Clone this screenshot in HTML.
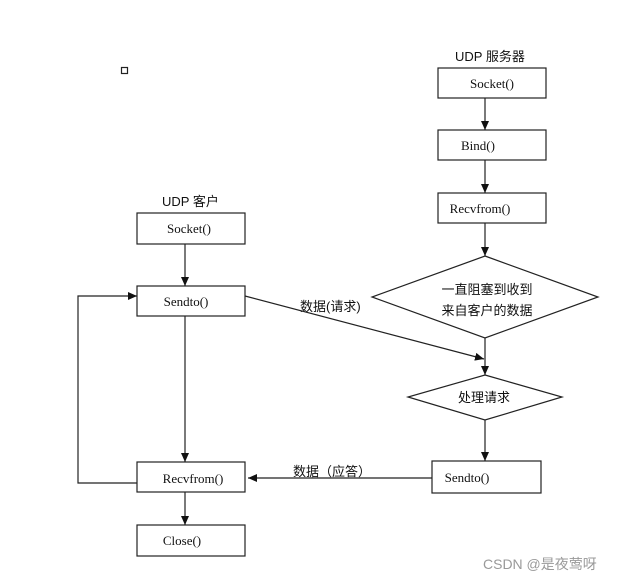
<!DOCTYPE html>
<html><head><meta charset="utf-8"><style>
body{margin:0;background:#fff;}
svg text{font-family:"Liberation Serif","Noto Serif CJK SC",serif;font-size:13px;fill:#111;}
.cjk{font-family:"Liberation Sans","Noto Sans CJK SC",sans-serif !important;}
</style></head><body>
<svg width="635" height="583" viewBox="0 0 635 583" xmlns="http://www.w3.org/2000/svg">
<defs><marker id="a" markerWidth="10" markerHeight="10" refX="9" refY="5" orient="auto" markerUnits="userSpaceOnUse"><path d="M0,1 L9,5 L0,9 Z" fill="#111"/></marker></defs>
<g stroke="#222" stroke-width="1.2" fill="none">
<rect x="121.5" y="67.5" width="6" height="6"/>
<rect x="438" y="68" width="108" height="30"/>
<rect x="438" y="130" width="108" height="30"/>
<rect x="438" y="193" width="108" height="30"/>
<polygon points="485,256 598,297 485,338 372,297"/>
<polygon points="485,375 562,397 485,420 408,397"/>
<rect x="432" y="461" width="109" height="32"/>
<rect x="137" y="213" width="108" height="31"/>
<rect x="137" y="286" width="108" height="30"/>
<rect x="137" y="462" width="108" height="30"/>
<rect x="137" y="525" width="108" height="31"/>
<line x1="485" y1="98" x2="485" y2="130" marker-end="url(#a)"/>
<line x1="485" y1="160" x2="485" y2="193" marker-end="url(#a)"/>
<line x1="485" y1="223" x2="485" y2="256" marker-end="url(#a)"/>
<line x1="485" y1="338" x2="485" y2="375" marker-end="url(#a)"/>
<line x1="485" y1="420" x2="485" y2="461" marker-end="url(#a)"/>
<line x1="185" y1="244" x2="185" y2="286" marker-end="url(#a)"/>
<line x1="185" y1="316" x2="185" y2="462" marker-end="url(#a)"/>
<line x1="185" y1="492" x2="185" y2="525" marker-end="url(#a)"/>
<polyline points="137,483 78,483 78,296 137,296" marker-end="url(#a)"/>
<line x1="245" y1="296" x2="484" y2="359" marker-end="url(#a)"/>
<line x1="432" y1="478" x2="248" y2="478" marker-end="url(#a)"/>
</g>
<text x="455" y="61" class="cjk">UDP 服务器</text>
<text x="492" y="88" text-anchor="middle">Socket()</text>
<text x="478" y="150" text-anchor="middle">Bind()</text>
<text x="480" y="213" text-anchor="middle">Recvfrom()</text>
<text x="487" y="294" text-anchor="middle" class="cjk">一直阻塞到收到</text>
<text x="487" y="315" text-anchor="middle" class="cjk">来自客户的数据</text>
<text x="484" y="402" text-anchor="middle" class="cjk">处理请求</text>
<text x="467" y="482" text-anchor="middle">Sendto()</text>
<text x="162" y="206" class="cjk">UDP 客户</text>
<text x="189" y="233" text-anchor="middle">Socket()</text>
<text x="186" y="306" text-anchor="middle">Sendto()</text>
<text x="193" y="483" text-anchor="middle">Recvfrom()</text>
<text x="182" y="545" text-anchor="middle">Close()</text>
<text x="300" y="311" class="cjk">数据(请求)</text>
<text x="293" y="476" class="cjk">数据（应答）</text>
<text x="483" y="569" class="cjk" style="fill:#999;font-size:14px">CSDN @是夜莺呀</text>
</svg>
</body></html>
